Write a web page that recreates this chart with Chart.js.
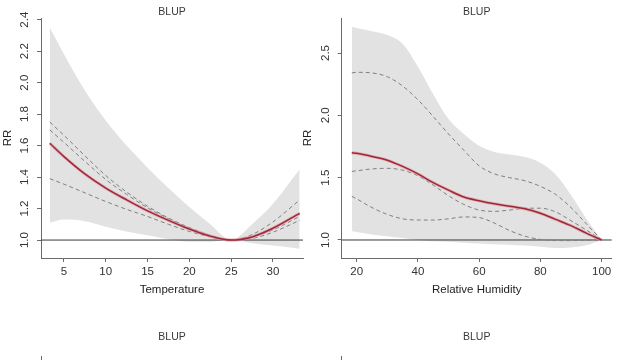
<!DOCTYPE html>
<html>
<head>
<meta charset="utf-8">
<script src="https://cdn.jsdelivr.net/npm/chart.js@4/dist/chart.umd.min.js"></script>
<style>
html, body { margin: 0; padding: 0; width: 640px; height: 360px; overflow: hidden; background: #fff; }
canvas { position: absolute; }
</style>
</head>
<body>
<canvas id="tempPlot" width="310" height="300" style="left:0;top:0"></canvas>
<canvas id="rhPlot" width="340" height="300" style="left:300px;top:0"></canvas>
<canvas id="bottomLeft" width="310" height="300" style="left:0;top:325px"></canvas>
<canvas id="bottomRight" width="340" height="300" style="left:300px;top:325px"></canvas>
<script>
const panelTitle = 'BLUP';

// temperature panel
const tempX   = [3.3, 5, 7.5, 10, 12.5, 15, 17.5, 20, 22.5, 25, 27.5, 30, 33.2];
const tempRR  = [1.615, 1.53, 1.42, 1.33, 1.255, 1.185, 1.125, 1.07, 1.025, 1.0, 1.02, 1.075, 1.17];
const tempD1  = [1.75, 1.665, 1.535, 1.41, 1.305, 1.215, 1.14, 1.08, 1.03, 1.0, 1.035, 1.115, 1.255];
const tempD2  = [1.70, 1.62, 1.50, 1.385, 1.29, 1.205, 1.135, 1.075, 1.03, 1.0, 1.01, 1.05, 1.125];
const tempD3  = [1.39, 1.355, 1.30, 1.245, 1.195, 1.15, 1.10, 1.055, 1.02, 1.0, 1.02, 1.065, 1.15];
const tempHi  = [2.35, 2.18, 1.95, 1.76, 1.60, 1.46, 1.33, 1.21, 1.10, 1.0, 1.10, 1.23, 1.45];
const tempLo  = [1.11, 1.13, 1.12, 1.085, 1.055, 1.03, 1.005, 0.99, 0.99, 1.0, 0.98, 0.965, 0.945];
const tempXTicks = [5, 10, 15, 20, 25, 30];
const tempYTicks = [1.0, 1.2, 1.4, 1.6, 1.8, 2.0, 2.2, 2.4];

// relative humidity panel
const rhX   = [18.4, 20, 25, 30, 35, 40, 45, 50, 55, 60, 65, 70, 75, 80, 85, 90, 95, 100];
const rhRR  = [1.70, 1.695, 1.67, 1.64, 1.59, 1.53, 1.46, 1.40, 1.345, 1.315, 1.29, 1.27, 1.25, 1.215, 1.165, 1.115, 1.055, 1.0];
const rhD1  = [2.34, 2.345, 2.34, 2.31, 2.235, 2.125, 1.99, 1.85, 1.72, 1.595, 1.53, 1.50, 1.475, 1.43, 1.365, 1.26, 1.13, 1.0];
const rhD2  = [1.55, 1.555, 1.57, 1.575, 1.56, 1.515, 1.44, 1.355, 1.285, 1.24, 1.23, 1.24, 1.255, 1.255, 1.225, 1.155, 1.08, 1.0];
const rhD3  = [1.35, 1.33, 1.26, 1.205, 1.17, 1.16, 1.16, 1.17, 1.185, 1.18, 1.135, 1.075, 1.03, 1.005, 0.995, 0.995, 0.998, 1.0];
const rhHi  = [2.71, 2.70, 2.675, 2.645, 2.575, 2.39, 2.17, 1.97, 1.85, 1.755, 1.705, 1.685, 1.665, 1.62, 1.525, 1.36, 1.17, 1.0];
const rhLo  = [1.07, 1.065, 1.045, 1.03, 1.015, 1.0, 0.99, 0.985, 0.978, 0.972, 0.966, 0.962, 0.955, 0.945, 0.935, 0.94, 0.958, 1.0];
const rhXTicks = [20, 40, 60, 80, 100];
const rhYTicks = [1.0, 1.5, 2.0, 2.5];

const fontFamily = '"Liberation Sans", Arial, Helvetica, sans-serif';
const axisColor = '#6a6a6a';

function curve(xs, ys) {
    return xs.map((x, i) => ({ x: x, y: ys[i] }));
}

// centre the title over the plot region, like R does
const centreTitle = {
    id: 'centreTitle',
    afterLayout(chart) {
        const t = chart.titleBlock;
        if (!t) return;
        t.left = chart.chartArea.left;
        t.right = chart.chartArea.right;
        t.width = t.right - t.left;
    }
};

// horizontal reference line at RR = 1, drawn right after the CI band
const refLine = {
    id: 'refLine',
    afterDatasetDraw(chart, args) {
        if (!chart.data.datasets[args.index].isBand) return;
        const ctx = chart.ctx;
        const area = chart.chartArea;
        const y = chart.scales.y.getPixelForValue(1);
        ctx.save();
        ctx.strokeStyle = '#3a3a3a';
        ctx.lineWidth = 1;
        ctx.beginPath();
        ctx.moveTo(area.left, y);
        ctx.lineTo(area.right, y);
        ctx.stroke();
        ctx.restore();
    }
};

function titleOpts(padBottom) {
    return {
        display: true,
        text: panelTitle,
        color: '#3a3a3a',
        font: { family: fontFamily, size: 10.5, weight: 'normal' },
        padding: { top: 5.5, bottom: padBottom }
    };
}

function createRRPlot(canvasId, xs, rr, d1, d2, d3, hi, lo, p) {
    const dashed = { borderColor: '#808080', borderWidth: 1, borderDash: [4, 3], fill: false };
    const rrData = {
        datasets: [
            { label: 'RR', data: curve(xs, rr), borderColor: '#9c2838', borderWidth: 1.5, fill: false },
            { label: 'RR halo', data: curve(xs, rr), borderColor: 'rgba(228,160,170,0.75)', borderWidth: 3.2, fill: false },
            Object.assign({ label: 'BLUP 1', data: curve(xs, d1) }, dashed),
            Object.assign({ label: 'BLUP 2', data: curve(xs, d2) }, dashed),
            Object.assign({ label: 'BLUP 3', data: curve(xs, d3) }, dashed),
            { label: 'CI high', data: curve(xs, hi), borderWidth: 0, borderColor: 'rgba(0,0,0,0)',
              backgroundColor: '#e2e2e2', fill: '+1', isBand: true },
            { label: 'CI low', data: curve(xs, lo), borderWidth: 0, borderColor: 'rgba(0,0,0,0)', fill: false }
        ]
    };
    const tickFont = { family: fontFamily, size: 11.5 };
    const rrConfig = {
        type: 'line',
        data: rrData,
        options: {
            responsive: false,
            animation: false,
            layout: { padding: { left: 0, right: p.padRight, top: 0, bottom: 2 } },
            elements: { point: { radius: 0 }, line: { cubicInterpolationMode: 'monotone' } },
            plugins: {
                legend: { display: false },
                tooltip: { enabled: false },
                title: titleOpts(0)
            },
            scales: {
                x: {
                    type: 'linear',
                    min: p.xMin,
                    max: p.xMax,
                    afterBuildTicks: s => { s.ticks = p.xTicks.map(v => ({ value: v })); },
                    afterFit: s => { s.height = 40; },
                    grid: { display: true, drawOnChartArea: false, drawTicks: true, tickLength: 4, color: axisColor },
                    border: { display: true, color: axisColor, width: 1 },
                    ticks: { color: '#333', font: tickFont, padding: 3, maxRotation: 0 },
                    title: { display: true, text: p.xTitle, color: '#222', font: tickFont, padding: { top: 0, bottom: 1 } }
                },
                y: {
                    type: 'linear',
                    min: p.yMin,
                    max: p.yMax,
                    afterBuildTicks: s => { s.ticks = p.yTicks.map(v => ({ value: v })); },
                    afterFit: s => { s.width = p.yWidth; },
                    grid: { display: true, drawOnChartArea: false, drawTicks: true, tickLength: 4, color: axisColor },
                    border: { display: true, color: axisColor, width: 1 },
                    ticks: { color: '#333', font: tickFont, padding: 4, minRotation: 90, maxRotation: 90,
                             crossAlign: 'center', callback: v => v.toFixed(1) },
                    title: { display: true, text: 'RR', color: '#222', font: tickFont, padding: { top: 1, bottom: 0 } }
                }
            }
        },
        plugins: [centreTitle, refLine]
    };
    return new Chart(document.getElementById(canvasId), rrConfig);
}

function createEmptyPanel(canvasId, padRight, yWidth) {
    const emptyConfig = {
        type: 'line',
        data: { datasets: [] },
        options: {
            responsive: false,
            animation: false,
            layout: { padding: { left: 0, right: padRight, top: 0, bottom: 2 } },
            plugins: { legend: { display: false }, tooltip: { enabled: false }, title: titleOpts(13) },
            scales: {
                x: { type: 'linear', min: 0, max: 1, grid: { display: false }, ticks: { display: false },
                     border: { display: true, color: axisColor } },
                y: { type: 'linear', min: 0, max: 1, grid: { display: false }, ticks: { display: false },
                     afterFit: s => { s.width = yWidth; },
                     border: { display: true, color: axisColor } }
            }
        },
        plugins: [centreTitle]
    };
    return new Chart(document.getElementById(canvasId), emptyConfig);
}

createRRPlot('tempPlot', tempX, tempRR, tempD1, tempD2, tempD3, tempHi, tempLo, {
    xMin: 2.25, xMax: 33.6, yMin: 0.886, yMax: 2.41,
    xTicks: tempXTicks, yTicks: tempYTicks, xTitle: 'Temperature', padRight: 7, yWidth: 41
});
createRRPlot('rhPlot', rhX, rhRR, rhD1, rhD2, rhD3, rhHi, rhLo, {
    xMin: 15.1, xMax: 103.3, yMin: 0.8555, yMax: 2.78,
    xTicks: rhXTicks, yTicks: rhYTicks, xTitle: 'Relative Humidity', padRight: 28.3, yWidth: 41.7
});
createEmptyPanel('bottomLeft', 7, 41);
createEmptyPanel('bottomRight', 28.3, 41.7);
</script>
</body>
</html>
